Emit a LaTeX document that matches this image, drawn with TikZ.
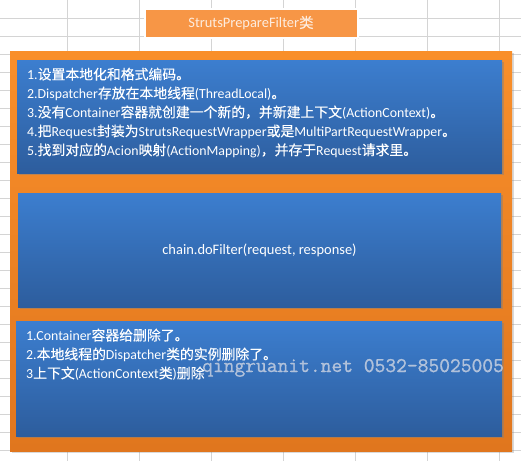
\documentclass[tikz,border=0pt]{standalone}
\usepackage{fontspec}
\setmainfont{Carlito}
\newfontfamily\zh{Noto Sans CJK SC}[FakeBold=0.2]
\newfontfamily\stampfont{Latin Modern Mono}[FakeBold=1]
\usetikzlibrary{shadows}

\definecolor{gridline}{RGB}{212,212,212}
\definecolor{titlefill}{RGB}{247,150,70}
\definecolor{titletext}{RGB}{253,236,222}
\definecolor{frametop}{RGB}{249,143,42}
\definecolor{framebottom}{RGB}{224,118,30}
\definecolor{boxtop}{RGB}{60,126,207}
\definecolor{boxbottom}{RGB}{45,93,157}
\definecolor{watermark}{RGB}{196,206,224}

\tikzset{
  framebox/.style={inner sep=0pt,top color=frametop,bottom color=framebottom,
    drop shadow={shadow xshift=1.5bp,shadow yshift=-1.5bp,opacity=.3}},
  stepbox/.style={inner sep=0pt,top color=boxtop,bottom color=boxbottom,
    drop shadow={shadow xshift=1.5bp,shadow yshift=-2bp,opacity=.45}},
  steptext/.style={inner sep=0pt,anchor=north west,align=left,text=white,
    font=\fontsize{13.9}{19}\selectfont},
}

\begin{document}
\begin{tikzpicture}[line join=bevel,]
\useasboundingbox (0bp,-461bp) rectangle (521bp,0bp);
%% sheet grid
\foreach \x in {67,139,...,499}
  \draw [gridline,line width=.6bp] (\x bp,0bp) -- (\x bp,-461bp);
\foreach \y in {18,36,...,450}
  \draw [gridline,line width=.6bp] (0bp,-\y bp) -- (521bp,-\y bp);
%%
\node (title) at (251bp,-23bp) [inner sep=0pt,fill=titlefill,draw=white,line width=2bp,
  minimum width=213bp,minimum height=29bp,text=titletext,font=\fontsize{14.5}{16}\selectfont,
  drop shadow={shadow xshift=1bp,shadow yshift=-1.5bp,opacity=.25}] {StrutsPrepareFilter{\zh 类}};
\node (frame) at (261bp,-251bp) [framebox,minimum width=502bp,minimum height=400bp] {};
%%
\node (prepare) at (259.5bp,-116.5bp) [stepbox,minimum width=485bp,minimum height=113bp] {};
\node (prepare_text) at (27bp,-67.5bp) [steptext] {%
  1.{\zh 设置本地化和格式编码。}\\
  2.Dispatcher{\zh 存放在本地线程}(ThreadLocal){\zh 。}\\
  3.{\zh 没有}Container{\zh 容器就创建一个新的，并新建上下文}(ActionContext){\zh 。}\\
  4.{\zh 把}Request{\zh 封装为}StrutsRequestWrapper{\zh 或是}MultiPartRequestWrapper{\zh 。}\\
  5.{\zh 找到对应的}Acion{\zh 映射}(ActionMapping){\zh ，并存于}Request{\zh 请求里。}};
\node (dofilter) at (259.5bp,-250bp) [stepbox,minimum width=483bp,minimum height=114bp,
  text=white,font=\fontsize{14.5}{16}\selectfont] {chain.doFilter(request, response)};
\node (cleanup) at (259bp,-378.5bp) [stepbox,minimum width=486bp,minimum height=115bp] {};
\node (cleanup_text) at (26bp,-328.5bp) [steptext] {%
  1.Container{\zh 容器给删除了。}\\
  2.{\zh 本地线程的}Dispatcher{\zh 类的实例删除了。}\\
  3{\zh 上下文}(ActionContext{\zh 类}){\zh 删除}};
%
\node (stamp) at (202bp,-372bp) [inner sep=0pt,anchor=base west,text=watermark,text opacity=.85,
  font=\fontsize{21}{21}\stampfont] {qingruanit.net 0532-85025005};
%
\end{tikzpicture}
\end{document}
